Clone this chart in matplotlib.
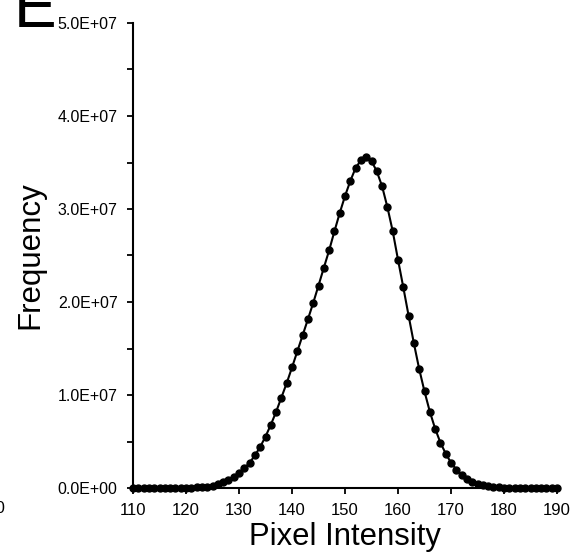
import numpy as np
import matplotlib
matplotlib.use("Agg")
import matplotlib.pyplot as plt
from matplotlib.ticker import MultipleLocator, FuncFormatter

plt.rcParams['font.family'] = ['Liberation Sans', 'DejaVu Sans']

# pixel intensity bins and frequency counts (units of 1e7)
intensity = list(range(110, 191))
freq_e7 = [
    0.0, 0.0, 0.0, 0.0, 0.0, 0.0001, 0.0002, 0.0004, 0.0007, 0.0012,   # 110-119
    0.002, 0.0035, 0.006, 0.010, 0.016, 0.026, 0.040, 0.060, 0.085, 0.118,  # 120-129
    0.160, 0.210, 0.272, 0.350, 0.442, 0.553, 0.679, 0.819, 0.973, 1.128,  # 130-139
    1.296, 1.469, 1.641, 1.814, 1.990, 2.177, 2.367, 2.554, 2.759, 2.956,  # 140-149
    3.139, 3.301, 3.441, 3.524, 3.559, 3.516, 3.405, 3.244, 3.020, 2.762,  # 150-159
    2.455, 2.158, 1.853, 1.555, 1.279, 1.038, 0.822, 0.639, 0.488, 0.370,  # 160-169
    0.272, 0.198, 0.140, 0.098, 0.068, 0.046, 0.031, 0.020, 0.013, 0.008,  # 170-179
    0.005, 0.003, 0.002, 0.001, 0.0006, 0.0004, 0.0002, 0.0001, 0.0, 0.0,  # 180-189
    0.0,                                                                    # 190
]
freq = np.array(freq_e7) * 1e7

fig = plt.figure(figsize=(5.74, 5.56), dpi=100)
ax = fig.add_axes([133/574, 1 - 488/556, (557 - 133)/574, (488 - 23)/556])

ax.plot(intensity, freq, color='black', linewidth=1.5, marker='o',
        markersize=5, clip_on=False, zorder=3)

ax.set_xlim(110, 190)
ax.set_ylim(0, 5e7)
ax.xaxis.set_major_locator(MultipleLocator(10))
ax.yaxis.set_major_locator(MultipleLocator(1e7))
ax.yaxis.set_minor_locator(MultipleLocator(0.5e7))
ax.yaxis.set_major_formatter(FuncFormatter(lambda v, p: '%.1fE+07' % (v / 1e7) if v > 0 else '0.0E+00'))

for s in ['top', 'right']:
    ax.spines[s].set_visible(False)
for s in ['left', 'bottom']:
    ax.spines[s].set_linewidth(1.5)

ax.tick_params(axis='both', which='both', direction='out', length=4, width=1.3)
ax.tick_params(axis='y', labelsize=11.5, pad=7)
ax.tick_params(axis='x', labelsize=12, pad=7)

ax.set_xlabel('Pixel Intensity', fontsize=22.3, labelpad=3)
ax.set_ylabel('Frequency', fontsize=22.5, labelpad=9)

# panel letter and edge of the neighbouring panel (both clipped in the original)
fig.text(14/574, 1 - 27/556, 'E', fontsize=46, ha='left', va='baseline')
fig.text(6/574, 1 - 513/556, '190', fontsize=12, ha='right', va='baseline')

fig.savefig('out.png', dpi=100)
